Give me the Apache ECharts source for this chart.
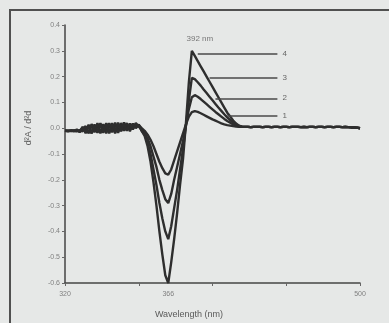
<!DOCTYPE html>
<html>
<head>
<meta charset="utf-8">
<script src="https://cdn.jsdelivr.net/npm/echarts@6/dist/echarts.min.js"></script>
<style>
  html, body { margin: 0; padding: 0; background: #e6e8e7; }
  #chart { width: 389px; height: 323px; }
</style>
</head>
<body>
<div id="chart"></div>
<script>
// wavelength (nm) at each sample, as spaced on the original category axis
const wavelengths = [
  320, 321.3, 322.6, 323.9, 325.3, 326.6, 327.9, 329.2, 330.5, 331.8,
  333.1, 334.5, 335.8, 337.1, 338.4, 339.7, 341.0, 342.3, 343.7, 345.0,
  346.3, 347.6, 348.9, 350.2, 351.5, 352.9, 354.2, 355.5, 356.8, 358.1,
  359.4, 360.7, 362.1, 363.4, 364.7, 366,
  369.3, 372.5, 375.8, 379.0, 382.3, 385.5, 388.8, 392,
  393.9, 395.8, 397.7, 399.6, 401.5, 403.4, 405.3, 407.2, 409.1, 410.9,
  412.8, 414.7, 416.6, 418.5, 420.4, 422.3, 424.2, 426.1, 428.0, 429.9,
  431.8, 433.7, 435.6, 437.5, 439.4, 441.3, 443.2, 445.1, 446.9, 448.8,
  450.7, 452.6, 454.5, 456.4, 458.3, 460.2, 462.1, 464.0, 465.9, 467.8,
  469.7, 471.6, 473.5, 475.4, 477.3, 479.2, 481.1, 482.9, 484.8, 486.7,
  488.6, 490.5, 492.4, 494.3, 496.2, 498.1, 500
];
const xLabelIdx = [0, 35, 100];   // 320, 366, 500

const curve1 = [
  -0.01, -0.01, -0.01, -0.012, -0.01, -0.008, -0.012, 0.0, -0.018, 0.012,
  -0.016, 0.014, -0.02, 0.016, -0.014, 0.02, -0.016, 0.018, -0.012, 0.02,
  -0.01, 0.016, -0.006, 0.018, 0.0, 0.012,
  0.0, -0.01, -0.025, -0.045, -0.07, -0.10, -0.13, -0.155, -0.175, -0.18,
  -0.16, -0.125, -0.09, -0.055, -0.02, 0.015, 0.045, 0.062, 0.066, 0.063,
  0.058, 0.052, 0.046, 0.04, 0.034, 0.029, 0.024, 0.019, 0.015, 0.012,
  0.01, 0.008, 0.006, 0.005, 0.005,
  0.005, 0.005, 0.004, 0.005, 0.005, 0.005, 0.004, 0.005, 0.005, 0.004,
  0.005, 0.005, 0.004, 0.005, 0.005, 0.004, 0.005, 0.005, 0.005, 0.004,
  0.005, 0.004, 0.005, 0.005, 0.004, 0.005, 0.005, 0.004, 0.005, 0.005,
  0.004, 0.005, 0.005, 0.004, 0.005, 0.004, 0.003, 0.003, 0.002, 0.0
];
const curve2 = [
  -0.01, -0.01, -0.011, -0.009, -0.012, -0.01, 0.004, -0.016, 0.014, -0.02,
  0.01, -0.018, 0.016, -0.012, 0.02, -0.016, 0.014, -0.02, 0.016, -0.01,
  0.022, -0.008, 0.014, 0.0, 0.02, 0.006,
  -0.005, -0.02, -0.04, -0.07, -0.11, -0.15, -0.20, -0.24, -0.275, -0.29,
  -0.255, -0.20, -0.15, -0.10, -0.05, 0.01, 0.075, 0.12, 0.128, 0.122,
  0.113, 0.103, 0.093, 0.083, 0.073, 0.063, 0.054, 0.045, 0.036, 0.028,
  0.021, 0.015, 0.01, 0.007, 0.005,
  0.005, 0.005, 0.004, 0.005, 0.005, 0.005, 0.004, 0.005, 0.005, 0.004,
  0.005, 0.005, 0.004, 0.005, 0.005, 0.004, 0.005, 0.005, 0.005, 0.004,
  0.005, 0.004, 0.005, 0.005, 0.004, 0.005, 0.005, 0.004, 0.005, 0.005,
  0.004, 0.005, 0.005, 0.004, 0.005, 0.004, 0.003, 0.003, 0.002, 0.0
];
const curve3 = [
  -0.01, -0.011, -0.01, -0.01, -0.008, -0.014, -0.004, 0.008, -0.02, 0.016,
  -0.012, 0.02, -0.016, 0.01, -0.02, 0.016, -0.012, 0.022, -0.018, 0.014,
  -0.008, 0.02, -0.012, 0.016, 0.004, 0.014,
  -0.01, -0.025, -0.055, -0.10, -0.16, -0.22, -0.29, -0.35, -0.40, -0.43,
  -0.38, -0.31, -0.24, -0.16, -0.08, 0.01, 0.11, 0.195, 0.19, 0.178,
  0.165, 0.15, 0.136, 0.122, 0.108, 0.094, 0.08, 0.067, 0.054, 0.042,
  0.031, 0.022, 0.014, 0.009, 0.006,
  0.005, 0.005, 0.004, 0.005, 0.005, 0.005, 0.004, 0.005, 0.005, 0.004,
  0.005, 0.005, 0.004, 0.005, 0.005, 0.004, 0.005, 0.005, 0.005, 0.004,
  0.005, 0.004, 0.005, 0.005, 0.004, 0.005, 0.005, 0.004, 0.005, 0.005,
  0.004, 0.005, 0.005, 0.004, 0.005, 0.004, 0.003, 0.003, 0.002, 0.0
];
const curve4 = [
  -0.01, -0.012, -0.008, -0.01, -0.005, -0.015, 0.005, -0.02, 0.01, -0.02,
  0.015, -0.015, 0.02, -0.018, 0.018, -0.02, 0.02, -0.015, 0.022, -0.012,
  0.02, -0.01, 0.018, -0.005, 0.015, 0.01,
  -0.01, -0.03, -0.07, -0.13, -0.21, -0.30, -0.40, -0.49, -0.57, -0.6,
  -0.52, -0.43, -0.33, -0.22, -0.12, 0.02, 0.18, 0.30, 0.28, 0.26,
  0.24, 0.22, 0.20, 0.18, 0.16, 0.14, 0.12, 0.10, 0.08, 0.06,
  0.045, 0.03, 0.018, 0.01, 0.006,
  0.005, 0.005, 0.004, 0.005, 0.005, 0.005, 0.004, 0.005, 0.005, 0.004,
  0.005, 0.005, 0.004, 0.005, 0.005, 0.004, 0.005, 0.005, 0.005, 0.004,
  0.005, 0.004, 0.005, 0.005, 0.004, 0.005, 0.005, 0.004, 0.005, 0.005,
  0.004, 0.005, 0.005, 0.004, 0.005, 0.004, 0.003, 0.003, 0.002, 0.0
];

const curveNames = ['1', '2', '3', '4'];
const curves = [curve1, curve2, curve3, curve4];
// leader lines: [start index, end index, y value]
const leaders = [[55, 72, 0.05], [51, 72, 0.116], [49, 72, 0.194], [45, 72, 0.29]];
const peakIdx = 43;
const peakText = '392 nm';

const font = 'Liberation Sans, Arial, sans-serif';
const myChart = echarts.init(document.getElementById('chart'));

const series = curves.map((data, k) => {
  const s = {
    name: curveNames[k],
    type: 'line',
    data: data,
    showSymbol: false,
    symbol: 'none',
    clip: false,
    lineStyle: { color: '#2e2e2e', width: 2.4 },
    markLine: {
      silent: true,
      symbol: ['none', 'none'],
      lineStyle: { color: '#4a4a4a', width: 1.5, type: 'solid' },
      label: {
        show: true,
        position: 'end',
        distance: 5,
        formatter: curveNames[k],
        color: '#666',
        fontSize: 8,
        fontFamily: font
      },
      data: [[
        { coord: [leaders[k][0], leaders[k][2]] },
        { coord: [leaders[k][1], leaders[k][2]] }
      ]]
    }
  };
  if (k === 3) {
    s.markPoint = {
      silent: true,
      symbol: 'circle',
      symbolSize: 0,
      label: {
        show: true,
        position: 'top',
        offset: [8, -3],
        formatter: peakText,
        color: '#777',
        fontSize: 8,
        fontFamily: font
      },
      data: [{ coord: [peakIdx, data[peakIdx]] }]
    };
  }
  return s;
});

const option = {
  animation: false,
  backgroundColor: '#e6e8e7',
  grid: { left: 65, right: 29, top: 25, bottom: 40 },
  xAxis: {
    type: 'category',
    data: wavelengths.map(String),
    boundaryGap: false,
    axisLine: { onZero: false, lineStyle: { color: '#454545', width: 1.5 } },
    axisTick: {
      length: 3,
      lineStyle: { color: '#666' },
      interval: (i) => i % 25 === 0
    },
    axisLabel: {
      interval: (i) => xLabelIdx.indexOf(i) >= 0,
      formatter: (v) => String(Math.round(Number(v))),
      color: '#808080',
      fontSize: 7,
      fontFamily: font,
      margin: 8
    },
    splitLine: { show: false }
  },
  yAxis: {
    type: 'value',
    min: -0.6,
    max: 0.4,
    interval: 0.1,
    axisLine: { show: true, lineStyle: { color: '#454545', width: 1.5 } },
    axisTick: { show: true, length: 3, lineStyle: { color: '#666' } },
    axisLabel: {
      formatter: (v) => v.toFixed(1),
      color: '#808080',
      fontSize: 7,
      fontFamily: font,
      margin: 5
    },
    splitLine: { show: false }
  },
  graphic: [
    {
      type: 'rect',
      z: -1,
      shape: { x: 10, y: 10, width: 420, height: 400 },
      style: { fill: 'none', stroke: '#505050', lineWidth: 2 }
    },
    {
      type: 'text',
      x: 189,
      y: 315,
      style: {
        text: 'Wavelength (nm)',
        fill: '#5a5a5a',
        font: '9px ' + font,
        textAlign: 'center',
        textVerticalAlign: 'middle'
      }
    },
    {
      type: 'text',
      x: 29,
      y: 128,
      rotation: Math.PI / 2,
      style: {
        text: 'd²A / d²d',
        fill: '#5a5a5a',
        font: '9px ' + font,
        textAlign: 'center',
        textVerticalAlign: 'middle'
      }
    }
  ],
  series: series
};
myChart.setOption(option);

window.addEventListener('resize', function () {
  myChart.resize();
});
</script>
</body>
</html>
